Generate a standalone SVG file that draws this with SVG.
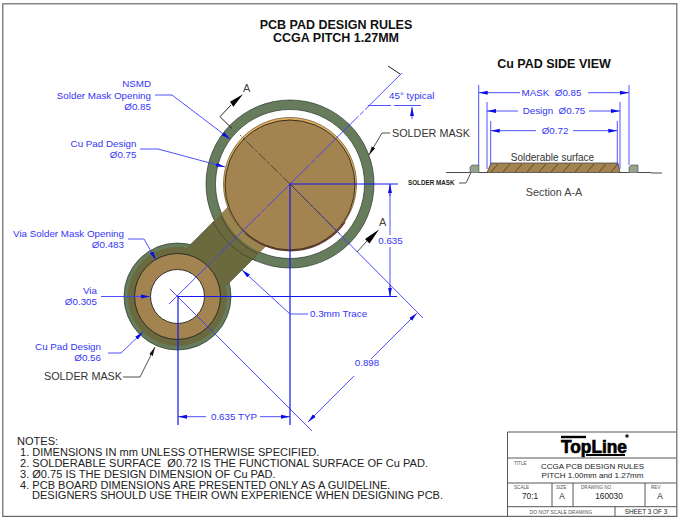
<svg xmlns="http://www.w3.org/2000/svg" width="680" height="520" viewBox="0 0 680 520">
<style>
text{font-family:"Liberation Sans",Arial,sans-serif}
.b{fill:#3535f5;font-size:9.8px}
.e{text-anchor:end}
.m{text-anchor:middle}
.k{fill:#333;font-size:10.800px}
.h{fill:#111;font-size:12.500px;font-weight:bold;text-anchor:middle}
.n{fill:#222;font-size:11.050px}
.t{fill:#555;font-size:4.600px}
.v{fill:#222;font-size:8.300px;text-anchor:middle}
.bl{stroke:#3c3cff;stroke-width:.9;fill:none}
.bt{stroke:#1414f0;stroke-width:1.200;fill:none}
.cl{stroke:#3c3cff;stroke-width:.9;fill:none;stroke-dasharray:60 2 5 2}
.bk{stroke:#222;stroke-width:.8;fill:none}
.tb{stroke:#444;stroke-width:.9;fill:none}
</style>
<defs>
<marker id="ab" viewBox="0 0 10 6" refX="10" refY="3" markerWidth="9" markerHeight="5.400" markerUnits="userSpaceOnUse" orient="auto-start-reverse"><path d="M0 .8 10 3 0 5.200z" fill="#0c0ce8"/></marker>
<marker id="ak" viewBox="0 0 10 6" refX="10" refY="3" markerWidth="9" markerHeight="5.400" markerUnits="userSpaceOnUse" orient="auto"><path d="M0 .8 10 3 0 5.200z" fill="#111"/></marker>
<clipPath id="gap"><circle cx="290" cy="184" r="74.500"/></clipPath>
</defs>
<rect x="0" y="0" width="680" height="520" fill="#fff"/>
<rect id="frame" x="2.800" y="3.800" width="674" height="512.600" fill="none" stroke="#666" stroke-width="1.200"/>
<g id="heading"><text class="h" x="336" y="28.500">PCB PAD DESIGN RULES</text><text class="h" x="336" y="41.500">CCGA PITCH 1.27MM</text></g>

<g id="main-mask">
<path fill-rule="evenodd" d="M206 184a84 84 0 1 0 168 0a84 84 0 1 0-168 0zM215.500 184a74.500 74.500 0 1 0 149 0a74.500 74.500 0 1 0-149 0z" fill="#667c5c" stroke="#2c3a2c" stroke-width=".7"/>
</g>
<g id="via-mask">
<circle cx="177.500" cy="296.500" r="53.500" fill="#667c5c" stroke="#2c3a2c" stroke-width=".7"/>
<circle cx="177.500" cy="296.500" r="49.500" fill="#6b6a3e"/>
</g>
<g id="trace">
<path d="M185 250 240 195 277 235 222 290z" fill="#6b6a3e"/>
<path d="M185 250 240 195 277 235 222 290z" fill="#9a8450" clip-path="url(#gap)"/>
<path d="M190 245 214 221M227 285 256 256" stroke="#3a3a26" stroke-width=".5" fill="none"/>
<path d="M213 222A84 84 0 0 0 256 261M221 216A74.500 74.500 0 0 0 258 254" stroke="#2c3a2c" stroke-width=".6" fill="none"/>
</g>
<g id="main-pad">
<circle cx="290" cy="184" r="66.500" fill="#e0b060" stroke="#4a3a20" stroke-width=".6"/>
<path d="M345 222a66.500 66.500 0 0 1-100 11" fill="none" stroke="#6d3f36" stroke-width="1.400"/>
<circle cx="290" cy="185" r="65" fill="#a38450" stroke="#2a2416" stroke-width=".9"/>
</g>
<g id="via-pad">
<circle cx="177.500" cy="296.500" r="43" fill="#a38450" stroke="#222" stroke-width=".9"/>
<circle cx="177.500" cy="296.500" r="27" fill="#fff" stroke="#222" stroke-width=".9"/>
</g>

<g id="side-view">
<path d="M446 172.500H470M479 172.500H487M620 172.500H629M638 172.500H650L652 173H662" stroke="#333" stroke-width=".9" fill="none"/>
<path d="M487 172.500 491 163H618L620 172.500z" fill="#a38450" stroke="#333" stroke-width=".7"/>
<path d="M491 172 498 164M503 172 510 164M515 172 522 164M527 172 534 164M539 172 546 164M551 172 558 164M563 172 570 164M575 172 582 164M587 172 594 164M599 172 606 164M611 172 618 164" stroke="#222" stroke-width=".6" fill="none"/>
<path d="M470 172.500V167L472 165H479V172.500z" fill="#94a48c" stroke="#333" stroke-width=".5"/>
<path d="M629 172.500V167L631 165H638V172.500z" fill="#94a48c" stroke="#333" stroke-width=".5"/>
<text class="h" x="554" y="68">Cu PAD SIDE VIEW</text>
<text x="552.500" y="161" fill="#333" font-size="10" class="m">Solderable surface</text>
<text x="554" y="196" fill="#444" font-size="10.800" class="m">Section A-A</text>
<text x="408" y="185" fill="#222" font-size="6.300" font-weight="bold">SOLDER MASK</text>
</g>

<g id="connectors">
<path class="cl" d="M169 304 402 73"/>
<path class="bl" d="M170 289 312 431"/>
<path class="bl" d="M290 184 423 318"/>
<path class="bt" d="M290 184H398M178 296.500H397M290 184V425M178 296.500V425"/>
<path d="M290 184 240 135M290 184 340 234" stroke="#333" stroke-width=".8" stroke-dasharray="10 2 3 2" fill="none"/>
<path d="M368 105.500H391M394 105.500H421" class="bl"/>
<path d="M388 66 400 74" stroke="#222" stroke-width="1" fill="none"/>
<path d="M412 107V119" class="bl" marker-start="url(#ab)"/>
<path d="M390 184V235M390 247V296.500" class="bl"/>
<path d="M390 196V184" class="bl" marker-end="url(#ab)"/>
<path d="M390 285V296.500" class="bl" marker-end="url(#ab)"/>
<path d="M206 416.700H178" class="bl" marker-end="url(#ab)"/>
<path d="M260 416.700H290" class="bl" marker-end="url(#ab)"/>
<path d="M354 376 308 422" class="bl" marker-end="url(#ab)"/>
<path d="M371 359 417 313" class="bl" marker-end="url(#ab)"/>
<path d="M155 95H172L230 139" class="bl" marker-end="url(#ab)"/>
<path d="M140 149H158L225 167" class="bl" marker-end="url(#ab)"/>
<path d="M128 239H144L156 260" class="bl" marker-end="url(#ab)"/>
<path d="M101 296.500H150" class="bl" marker-end="url(#ab)"/>
<path d="M108 353H121L143 332" class="bl" marker-end="url(#ab)"/>
<path d="M308 314H290L242 270" class="bl" marker-end="url(#ab)"/>
<path d="M123 377H140L155 347" class="bk" marker-end="url(#ak)"/>
<path d="M390 133H382L369 155" class="bk" marker-end="url(#ak)"/>
<path d="M459 183H466L471 172.500" class="bk"/>
<path d="M232 128.500 220 116.700 231 105" stroke="#222" stroke-width="1" fill="none"/>
<path d="M243 94.300 230 101.700 233.300 106.700z" fill="#000"/>
<path d="M357 252 367 241" class="bk"/>
<path d="M379 229.500 365 239 369.500 243.500z" fill="#000"/>
<path d="M478.700 85V165M629 85V165M487 102V169M620 102V169M490.700 121V165M617.300 121V165" class="bl"/>
<path d="M520 92.700H478.700" class="bl" marker-end="url(#ab)"/>
<path d="M588 92.700H629" class="bl" marker-end="url(#ab)"/>
<path d="M518 111H487" class="bl" marker-end="url(#ab)"/>
<path d="M589 111H620" class="bl" marker-end="url(#ab)"/>
<path d="M536 130.700H490.700" class="bl" marker-end="url(#ab)"/>
<path d="M573 130.700H617.300" class="bl" marker-end="url(#ab)"/>
</g>

<g id="labels">
<text class="b e" x="151" y="87">NSMD</text>
<text class="b e" x="151" y="99">Solder Mask Opening</text>
<text class="b e" x="151" y="110">Ø0.85</text>
<text class="b e" x="136.500" y="147">Cu Pad Design</text>
<text class="b e" x="136.500" y="158">Ø0.75</text>
<text class="b e" x="124" y="237">Via Solder Mask Opening</text>
<text class="b e" x="124" y="248">Ø0.483</text>
<text class="b e" x="97" y="294">Via</text>
<text class="b e" x="97" y="305">Ø0.305</text>
<text class="b e" x="101" y="350">Cu Pad Design</text>
<text class="b e" x="101" y="361">Ø0.56</text>
<text class="k" x="44" y="380">SOLDER MASK</text>
<text class="k" x="392" y="137">SOLDER MASK</text>
<text x="243" y="92" fill="#444" font-size="11">A</text>
<text x="379" y="226" fill="#444" font-size="11">A</text>
<text class="b" x="389" y="99">45° typical</text>
<text class="b m" x="390.500" y="244">0.635</text>
<text class="b m" x="234" y="420">0.635 TYP</text>
<text class="b m" x="367" y="366">0.898</text>
<text class="b" x="310" y="317">0.3mm Trace</text>
<text class="b m" x="551.500" y="96" xml:space="preserve">MASK  Ø0.85</text>
<text class="b m" x="554" y="114" xml:space="preserve">Design  Ø0.75</text>
<text class="b m" x="555" y="134">Ø0.72</text>
</g>

<g id="notes">
<text class="n" x="17" y="445">NOTES:</text>
<text class="n" x="20" y="456">1. DIMENSIONS IN mm UNLESS OTHERWISE SPECIFIED.</text>
<text class="n" x="20" y="467" xml:space="preserve">2. SOLDERABLE SURFACE  Ø0.72 IS THE FUNCTIONAL SURFACE OF Cu PAD.</text>
<text class="n" x="20" y="478">3. Ø0.75 IS THE DESIGN DIMENSION OF Cu PAD.</text>
<text class="n" x="20" y="488.500">4. PCB BOARD DIMENSIONS ARE PRESENTED ONLY AS A GUIDELINE.</text>
<text class="n" x="32" y="499">DESIGNERS SHOULD USE THEIR OWN EXPERIENCE WHEN DESIGNING PCB.</text>
</g>

<g id="title-block">
<path class="tb" d="M507.500 516V432H676M507.500 458H676M507.500 483H676M507.500 506.700H676M552 483V506.700M573 483V506.700M645 483V506.700M615 506.700V516"/>
<path d="M561 437H586" stroke="#000" stroke-width="2.400"/>
<path d="M586 455H625" stroke="#000" stroke-width="2"/>
<text x="561" y="453" font-size="18" font-weight="bold" fill="#000" stroke="#000" stroke-width=".7" textLength="66" lengthAdjust="spacingAndGlyphs">TopLine</text>
<circle cx="627" cy="436" r="1.800" fill="#223"/>
<text class="t" x="514" y="465">TITLE</text>
<text class="m" x="592.500" y="468.500" fill="#222" font-size="8">CCGA PCB DESIGN RULES</text>
<text class="m" x="592.500" y="477.500" fill="#222" font-size="8">PITCH 1.00mm and 1.27mm</text>
<text class="t" x="514" y="488.500">SCALE</text>
<text class="t" x="556" y="488.500">SIZE</text>
<text class="t" x="581" y="488.500">DRAWING NO.</text>
<text class="t" x="651" y="488.500">REV</text>
<text class="v" x="530" y="498.500">70:1</text>
<text class="v" x="562" y="498.500">A</text>
<text class="v" x="609" y="498.500">160030</text>
<text class="v" x="660" y="498.500">A</text>
<text class="m" x="561" y="514" fill="#555" font-size="5">DO NOT SCALE DRAWING</text>
<text class="m" x="646" y="513.500" fill="#222" font-size="6.400">SHEET 3 OF 3</text>
</g>
</svg>
